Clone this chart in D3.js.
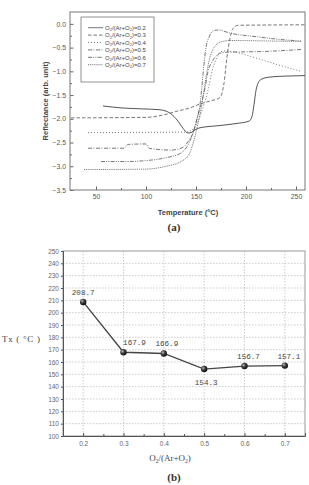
<!DOCTYPE html>
<html>
<head>
<meta charset="utf-8">
<script src="https://cdn.jsdelivr.net/npm/d3@7"></script>
<style>
  body { margin: 0; background: #fff; }
  svg { display: block; }
</style>
</head>
<body>
<script>
// ---- data, panel (a): reflectance vs temperature ----
var ratioLabels = ["0.2", "0.3", "0.4", "0.5", "0.6", "0.7"];

var temp02 = [57, 75, 95, 114, 124, 132, 137, 142, 146, 150, 156, 170, 190, 203, 206, 208, 210, 212, 216, 224, 240, 259];
var refl02 = [-1.73, -1.77, -1.79, -1.81, -1.88, -2.05, -2.2, -2.3, -2.28, -2.22, -2.18, -2.15, -2.1, -2.05, -1.95, -1.7, -1.4, -1.25, -1.16, -1.12, -1.1, -1.09];

var temp03 = [25, 100, 117, 131, 144, 155, 165, 174, 178, 181, 184, 187, 192, 259];
var refl03 = [-1.98, -1.97, -1.92, -1.84, -1.77, -1.68, -1.62, -1.55, -1.25, -0.7, -0.3, -0.1, -0.03, -0.02];

var temp04 = [42, 140, 148, 153, 158, 162, 166, 170, 174, 178, 190, 210, 230, 255];
var refl04 = [-2.29, -2.28, -2.2, -2.0, -1.7, -1.4, -1.0, -0.75, -0.6, -0.57, -0.6, -0.72, -0.85, -1.0];

var temp05 = [42, 78, 82, 100, 103, 115, 125, 137, 143, 147, 151, 155, 159, 162, 166, 171, 178, 220, 255];
var refl05 = [-2.62, -2.62, -2.54, -2.53, -2.62, -2.65, -2.66, -2.6, -2.45, -2.3, -2.0, -1.7, -1.35, -1.0, -0.8, -0.66, -0.6, -0.58, -0.54];

var temp06 = [55, 80, 100, 120, 135, 142, 147, 151, 154, 156, 158, 160, 163, 167, 172, 185, 210, 235, 255];
var refl06 = [-2.9, -2.9, -2.88, -2.82, -2.72, -2.55, -2.3, -2.0, -1.7, -1.3, -0.85, -0.5, -0.28, -0.15, -0.13, -0.2, -0.27, -0.33, -0.36];

var temp07 = [38, 100, 120, 135, 143, 148, 152, 155, 158, 161, 164, 168, 175, 185, 220, 255];
var refl07 = [-3.07, -3.06, -3.0, -2.9, -2.75, -2.45, -2.1, -1.8, -1.4, -1.0, -0.7, -0.5, -0.38, -0.35, -0.36, -0.37];

var xTicksA = [50, 100, 150, 200, 250];
var yTicksA = [0.0, -0.5, -1.0, -1.5, -2.0, -2.5, -3.0, -3.5];

// ---- data, panel (b): Tx vs O2/(Ar+O2) ----
var oxygenRatio = [0.2, 0.3, 0.4, 0.5, 0.6, 0.7];
var txValues = [208.7, 167.9, 166.9, 154.3, 156.7, 157.1];
var xTicksB = [0.2, 0.3, 0.4, 0.5, 0.6, 0.7];
var yTicksB = [100, 110, 120, 130, 140, 150, 160, 170, 180, 190, 200, 210, 220, 230, 240, 250];

var width = 309, height = 485;

var svg = d3.select("body").append("svg")
    .attr("width", width)
    .attr("height", height);

/* ================= panel (a) ================= */
var xA = d3.scaleLinear().domain([24, 259]).range([70, 305]);
var yA = d3.scaleLinear().domain([-3.5, 0.25]).range([190, 12]);

var gA = svg.append("g");

// minor ticks
gA.append("g")
    .attr("transform", "translate(0,190)")
    .call(d3.axisBottom(xA).tickValues([75, 125, 175, 225]).tickSize(-2).tickFormat(""))
    .call(function(g) { g.select(".domain").remove(); });
gA.append("g")
    .attr("transform", "translate(70,0)")
    .call(d3.axisLeft(yA).tickValues(d3.range(-3.25, 0.25, 0.5)).tickSize(-2).tickFormat(""))
    .call(function(g) { g.select(".domain").remove(); });

// major ticks + labels
var axA_x = gA.append("g")
    .attr("transform", "translate(0,190)")
    .call(d3.axisBottom(xA).tickValues(xTicksA).tickSize(-3.5).tickPadding(4));
var axA_y = gA.append("g")
    .attr("transform", "translate(70,0)")
    .call(d3.axisLeft(yA).tickValues(yTicksA).tickSize(-3.5).tickPadding(4).tickFormat(d3.format(".1f")));

[axA_x, axA_y].forEach(function(ax) {
    ax.select(".domain").remove();
    ax.selectAll("text").attr("font-family", "Liberation Sans, Arial, sans-serif")
        .attr("font-size", 6.8).attr("fill", "#555");
});
gA.selectAll(".tick line").attr("stroke", "#666");

// frame
gA.append("rect")
    .attr("x", 70).attr("y", 12)
    .attr("width", 235).attr("height", 178)
    .attr("fill", "none").attr("stroke", "#777").attr("stroke-width", 1);

var dashes = ["none", "3.5,2", "1,2", "4,1.5,1,1.5", "4,1.2,1,1.2,1,1.2", "1,0.9"];
var temps = [temp02, temp03, temp04, temp05, temp06, temp07];
var refls = [refl02, refl03, refl04, refl05, refl06, refl07];

var lineA = d3.line()
    .x(function(d) { return xA(d[0]); })
    .y(function(d) { return yA(d[1]); })
    .curve(d3.curveMonotoneX);

temps.forEach(function(t, i) {
    var pts = t.map(function(v, j) { return [v, refls[i][j]]; });
    gA.append("path")
        .datum(pts)
        .attr("d", lineA)
        .attr("fill", "none")
        .attr("stroke", i == 0 ? "#555" : "#666")
        .attr("stroke-width", i == 0 ? 1 : 0.9)
        .attr("stroke-dasharray", dashes[i]);
});

// legend
var leg = gA.append("g");
leg.append("rect")
    .attr("x", 81).attr("y", 17)
    .attr("width", 73).attr("height", 65)
    .attr("fill", "#fff").attr("stroke", "#777").attr("stroke-width", 0.8);

ratioLabels.forEach(function(r, i) {
    var y = 27.7 + i * 7.4;
    leg.append("line")
        .attr("x1", 88).attr("x2", 103)
        .attr("y1", y).attr("y2", y)
        .attr("stroke", "#666").attr("stroke-width", 0.9)
        .attr("stroke-dasharray", dashes[i]);
    var tx = leg.append("text")
        .attr("x", 105).attr("y", y + 2.2)
        .attr("font-family", "Liberation Sans, Arial, sans-serif")
        .attr("font-size", 6).attr("fill", "#444");
    tx.append("tspan").text("O");
    tx.append("tspan").attr("font-size", 4).attr("dy", 1.3).text("2");
    tx.append("tspan").attr("dy", -1.3).text("/(Ar+O");
    tx.append("tspan").attr("font-size", 4).attr("dy", 1.3).text("2");
    tx.append("tspan").attr("dy", -1.3).text(")=" + r);
});

// axis titles
svg.append("text")
    .attr("transform", "translate(48,101) rotate(-90)")
    .attr("text-anchor", "middle")
    .attr("font-family", "Liberation Sans, Arial, sans-serif")
    .attr("font-size", 7.5).attr("font-weight", "bold").attr("fill", "#444")
    .text("Reflectance (arb. unit)");

var tA = svg.append("text")
    .attr("x", 188).attr("y", 215)
    .attr("text-anchor", "middle")
    .attr("font-family", "Liberation Sans, Arial, sans-serif")
    .attr("font-size", 7.5).attr("font-weight", "bold").attr("fill", "#444");
tA.append("tspan").text("Temperature (");
tA.append("tspan").attr("font-size", 5).attr("dy", -3).text("o");
tA.append("tspan").attr("dy", 3).text("C)");

svg.append("text")
    .attr("x", 174).attr("y", 231)
    .attr("text-anchor", "middle")
    .attr("font-family", "Liberation Serif, Times New Roman, serif")
    .attr("font-size", 11).attr("font-weight", "bold").attr("fill", "#333")
    .text("(a)");

/* ================= panel (b) ================= */
var xB = d3.scaleLinear().domain([0.15, 0.75]).range([63, 305]);
var yB = d3.scaleLinear().domain([100, 250]).range([436, 251]);

var gB = svg.append("g");

// grid
gB.selectAll(".hgrid")
    .data(yTicksB.slice(1, -1))
    .enter().append("line")
    .attr("x1", 63).attr("x2", 305)
    .attr("y1", function(d) { return yB(d); })
    .attr("y2", function(d) { return yB(d); })
    .attr("stroke", "#aaa").attr("stroke-width", 0.6)
    .attr("stroke-dasharray", "1.5,1.5");
gB.selectAll(".vgrid")
    .data(xTicksB)
    .enter().append("line")
    .attr("y1", 251).attr("y2", 436)
    .attr("x1", function(d) { return xB(d); })
    .attr("x2", function(d) { return xB(d); })
    .attr("stroke", "#aaa").attr("stroke-width", 0.6)
    .attr("stroke-dasharray", "1.5,1.5");

// frame
gB.append("rect")
    .attr("x", 63).attr("y", 251)
    .attr("width", 242).attr("height", 185)
    .attr("fill", "none").attr("stroke", "#aaa").attr("stroke-width", 1.2);

var axB_x = gB.append("g")
    .attr("transform", "translate(0,436)")
    .call(d3.axisBottom(xB).tickValues(xTicksB).tickSize(-3).tickPadding(5).tickFormat(d3.format(".1f")));
gB.append("g")
    .attr("transform", "translate(0,436)")
    .call(d3.axisBottom(xB).tickValues([0.25, 0.35, 0.45, 0.55, 0.65]).tickSize(-2).tickFormat(""))
    .call(function(g) { g.select(".domain").remove(); });
var axB_y = gB.append("g")
    .attr("transform", "translate(63,0)")
    .call(d3.axisLeft(yB).tickValues(yTicksB).tickSize(2).tickPadding(2));

[axB_x, axB_y].forEach(function(ax) {
    ax.select(".domain").attr("stroke", "#555");
    ax.selectAll("text").attr("font-family", "Liberation Sans, Arial, sans-serif")
        .attr("font-size", 6.5).attr("fill", "#666");
});
gB.selectAll(".tick line").attr("stroke", "#555");

// line + markers
var lineB = d3.line()
    .x(function(d, i) { return xB(oxygenRatio[i]); })
    .y(function(d) { return yB(d); });

gB.append("path")
    .datum(txValues)
    .attr("d", lineB)
    .attr("fill", "none")
    .attr("stroke", "#444").attr("stroke-width", 1.3);

var grad = svg.append("defs").append("radialGradient")
    .attr("id", "ball").attr("cx", "35%").attr("cy", "35%").attr("r", "65%");
grad.append("stop").attr("offset", "0%").attr("stop-color", "#bbb");
grad.append("stop").attr("offset", "45%").attr("stop-color", "#444");
grad.append("stop").attr("offset", "100%").attr("stop-color", "#111");

gB.selectAll(".pt")
    .data(txValues)
    .enter().append("circle")
    .attr("cx", function(d, i) { return xB(oxygenRatio[i]); })
    .attr("cy", function(d) { return yB(d); })
    .attr("r", 3.2)
    .attr("fill", "url(#ball)");

// value labels: mostly above; the minimum below; second shifted right off the line
var labelDx = [0, 11, 3, 2, 4, 4];
gB.selectAll(".val")
    .data(txValues)
    .enter().append("text")
    .attr("x", function(d, i) { return xB(oxygenRatio[i]) + labelDx[i]; })
    .attr("y", function(d, i) { return yB(d) + (d == d3.min(txValues) ? 16 : -7); })
    .attr("text-anchor", "middle")
    .attr("font-family", "Liberation Mono, Courier New, monospace")
    .attr("font-size", 7.6).attr("fill", "#444")
    .text(function(d) { return d.toFixed(1); });

// axis titles
svg.append("text")
    .attr("x", 2).attr("y", 342)
    .attr("font-family", "Liberation Serif, Times New Roman, serif")
    .attr("font-size", 9).attr("letter-spacing", 0.7).attr("fill", "#444")
    .text("Tx ( \u00B0C )");

var tB = svg.append("text")
    .attr("x", 170).attr("y", 461)
    .attr("text-anchor", "middle")
    .attr("font-family", "Liberation Serif, Times New Roman, serif")
    .attr("font-size", 9).attr("fill", "#444");
tB.append("tspan").text("O");
tB.append("tspan").attr("font-size", 5.5).attr("dy", 2).text("2");
tB.append("tspan").attr("dy", -2).text("/(Ar+O");
tB.append("tspan").attr("font-size", 5.5).attr("dy", 2).text("2");
tB.append("tspan").attr("dy", -2).text(")");

svg.append("text")
    .attr("x", 174).attr("y", 481)
    .attr("text-anchor", "middle")
    .attr("font-family", "Liberation Serif, Times New Roman, serif")
    .attr("font-size", 11).attr("font-weight", "bold").attr("fill", "#333")
    .text("(b)");
</script>
</body>
</html>
